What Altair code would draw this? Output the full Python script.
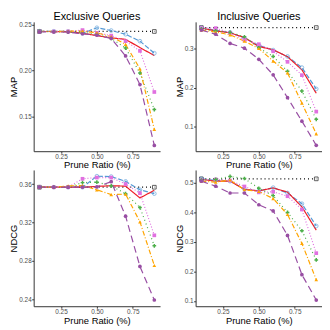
import altair as alt
import pandas as pd

# ---------------- data ----------------
prune_ratio = [0.1, 0.2, 0.3, 0.4, 0.5, 0.6, 0.7, 0.8, 0.9]
baseline_x = [0.1, 0.9]
methods = ["Unpruned", "Method A", "Method B", "Method C", "Method D", "Method E", "Method F"]

# Exclusive queries - MAP
ex_map_base = [0.2425, 0.2425]
ex_map_a = [0.2428, 0.2427, 0.2425, 0.2405, 0.2465, 0.2435, 0.2395, 0.2320, 0.2190]
ex_map_b = [0.2425, 0.2424, 0.2422, 0.2405, 0.2380, 0.2355, 0.2340, 0.2250, 0.2165]
ex_map_c = [0.2425, 0.2424, 0.2425, 0.2440, 0.2410, 0.2380, 0.2320, 0.2215, 0.1770]
ex_map_d = [0.2425, 0.2422, 0.2418, 0.2415, 0.2395, 0.2350, 0.2245, 0.1975, 0.1580]
ex_map_e = [0.2425, 0.2425, 0.2428, 0.2430, 0.2410, 0.2370, 0.2285, 0.2020, 0.1365]
ex_map_f = [0.2420, 0.2420, 0.2418, 0.2400, 0.2385, 0.2350, 0.2160, 0.1850, 0.1192]

# Inclusive queries - MAP
in_map_base = [0.3534, 0.3534]
in_map_a = [0.3526, 0.3462, 0.3413, 0.3267, 0.3081, 0.2960, 0.2798, 0.2514, 0.1970]
in_map_b = [0.3520, 0.3450, 0.3400, 0.3280, 0.3050, 0.2970, 0.2790, 0.2457, 0.1858]
in_map_c = [0.3520, 0.3520, 0.3400, 0.3220, 0.3110, 0.2930, 0.2660, 0.2320, 0.1390]
in_map_d = [0.3500, 0.3450, 0.3410, 0.3300, 0.3020, 0.2798, 0.2417, 0.1915, 0.1194]
in_map_e = [0.3470, 0.3420, 0.3350, 0.3186, 0.3000, 0.2680, 0.2377, 0.1607, 0.0822]
in_map_f = [0.3470, 0.3364, 0.3130, 0.3008, 0.2725, 0.2328, 0.1745, 0.1146, 0.0530]

# Exclusive queries - NDCG
ex_ndcg_base = [0.3567, 0.3567]
ex_ndcg_a = [0.3567, 0.3567, 0.3567, 0.3567, 0.3682, 0.3678, 0.3628, 0.3540, 0.3500]
ex_ndcg_b = [0.3567, 0.3567, 0.3567, 0.3567, 0.3575, 0.3583, 0.3578, 0.3455, 0.3535]
ex_ndcg_c = [0.3567, 0.3567, 0.3567, 0.3655, 0.3668, 0.3668, 0.3600, 0.3505, 0.3065]
ex_ndcg_d = [0.3567, 0.3567, 0.3567, 0.3615, 0.3620, 0.3580, 0.3500, 0.3355, 0.2955]
ex_ndcg_e = [0.3567, 0.3567, 0.3580, 0.3585, 0.3540, 0.3490, 0.3495, 0.3205, 0.2750]
ex_ndcg_f = [0.3567, 0.3567, 0.3567, 0.3567, 0.3570, 0.3625, 0.3265, 0.2740, 0.2390]

# Inclusive queries - NDCG
in_ndcg_base = [0.5139, 0.5139]
in_ndcg_a = [0.5140, 0.5085, 0.5060, 0.4790, 0.4730, 0.4840, 0.4660, 0.4296, 0.3540]
in_ndcg_b = [0.5120, 0.5060, 0.5060, 0.4780, 0.4730, 0.4830, 0.4690, 0.4190, 0.3400]
in_ndcg_c = [0.5100, 0.5120, 0.5080, 0.4880, 0.4680, 0.4700, 0.4550, 0.4100, 0.2620]
in_ndcg_d = [0.5100, 0.5120, 0.5220, 0.5150, 0.4820, 0.4570, 0.4000, 0.3380, 0.2390]
in_ndcg_e = [0.5060, 0.5030, 0.5100, 0.4770, 0.4710, 0.4470, 0.3930, 0.2950, 0.1720]
in_ndcg_f = [0.5060, 0.4890, 0.4660, 0.4660, 0.4260, 0.4050, 0.3220, 0.1890, 0.1030]

x_ticks = [0.25, 0.50, 0.75]

# ---------------- styles ----------------
colors = ["#000000", "#5599D6", "#EE1C25", "#E070E0", "#4DAF4A", "#FFA500", "#984EA3"]
dashes = [[1, 3], [5, 2], [1, 0], [1, 2], [1, 3], [5, 2, 1, 2], [7, 4]]
shapes = ["square", "circle", "circle", "square", "cross", "triangle-up", "circle"]
widths = [1.2, 1.2, 1.6, 1.2, 1.2, 1.2, 1.2]


def build_frame(base, series):
    rows = []
    for xv, yv in zip(baseline_x, base):
        rows.append({"method": methods[0], "x": xv, "y": yv})
    for m, vals in zip(methods[1:], series):
        for xv, yv in zip(prune_ratio, vals):
            rows.append({"method": m, "x": xv, "y": yv})
    return pd.DataFrame(rows)


def panel(df, ytitle, ydomain, yticks, yfmt, width, height, title=None):
    x_enc = alt.X("x:Q", scale=alt.Scale(domain=[0.06, 0.94], nice=False, zero=False),
                  axis=alt.Axis(values=x_ticks, format=".2f", title="Prune Ratio (%)"))
    y_enc = alt.Y("y:Q", scale=alt.Scale(domain=ydomain, nice=False, zero=False),
                  axis=alt.Axis(values=yticks, format=yfmt, title=ytitle))
    col = alt.Color("method:N", scale=alt.Scale(domain=methods, range=colors), legend=None)
    dash = alt.StrokeDash("method:N", scale=alt.Scale(domain=methods, range=dashes), legend=None)
    sw = alt.StrokeWidth("method:N", scale=alt.Scale(domain=methods, range=widths), legend=None)
    shp = alt.Shape("method:N", scale=alt.Scale(domain=methods, range=shapes), legend=None)

    lines = alt.Chart(df).mark_line().encode(x=x_enc, y=y_enc, color=col, strokeDash=dash,
                                             strokeWidth=sw, detail="method:N")
    open_pts = alt.Chart(df).transform_filter(
        alt.FieldOneOfPredicate(field="method", oneOf=[methods[0], methods[1]])
    ).mark_point(filled=False, size=14, strokeWidth=0.9).encode(x=x_enc, y=y_enc, color=col, shape=shp)
    filled_pts = alt.Chart(df).transform_filter(
        alt.FieldOneOfPredicate(field="method", oneOf=methods[3:])
    ).mark_point(filled=True, size=14, opacity=1).encode(x=x_enc, y=y_enc, color=col, shape=shp)

    ch = alt.layer(lines, open_pts, filled_pts).properties(width=width, height=height)
    if title:
        ch = ch.properties(title=alt.TitleParams(text=title, fontSize=11, fontWeight="normal",
                                                 anchor="middle", offset=0, font="Liberation Sans"))
    return ch


df_ex_map = build_frame(ex_map_base, [ex_map_a, ex_map_b, ex_map_c, ex_map_d, ex_map_e, ex_map_f])
df_in_map = build_frame(in_map_base, [in_map_a, in_map_b, in_map_c, in_map_d, in_map_e, in_map_f])
df_ex_ndcg = build_frame(ex_ndcg_base, [ex_ndcg_a, ex_ndcg_b, ex_ndcg_c, ex_ndcg_d, ex_ndcg_e, ex_ndcg_f])
df_in_ndcg = build_frame(in_ndcg_base, [in_ndcg_a, in_ndcg_b, in_ndcg_c, in_ndcg_d, in_ndcg_e, in_ndcg_f])

W = 128
p1 = panel(df_ex_map, "MAP", [0.1129, 0.2529], [0.15, 0.20, 0.25], ".2f", W, 131, "Exclusive Queries")
p2 = panel(df_in_map, "MAP", [0.038, 0.368], [0.1, 0.2, 0.3], ".1f", W, 131, "Inclusive Queries")
p3 = panel(df_ex_ndcg, "NDCG", [0.2325, 0.3747], [0.24, 0.28, 0.32, 0.36], ".2f", W, 138)
p4 = panel(df_in_ndcg, "NDCG", [0.082, 0.544], [0.1, 0.2, 0.3, 0.4, 0.5], ".1f", W, 138)

chart = alt.vconcat(
    alt.hconcat(p1, p2, spacing=14),
    alt.hconcat(p3, p4, spacing=14),
    spacing=0,
).properties(
    padding={"left": 0, "top": 0, "right": 0, "bottom": 0}
).configure_view(
    stroke=None
).configure_axis(
    grid=False,
    labelFont="Liberation Sans",
    titleFont="Liberation Sans",
    labelFontSize=6.5,
    labelColor="#4D4D4D",
    titleFontSize=9.5,
    titleFontWeight="normal",
    titleColor="#000000",
    domainColor="#333333",
    tickColor="#333333",
    tickSize=2,
    labelPadding=0.5,
    titlePadding=0,
)

chart.save("out.html", embed_options={"renderer": "svg", "actions": False})
